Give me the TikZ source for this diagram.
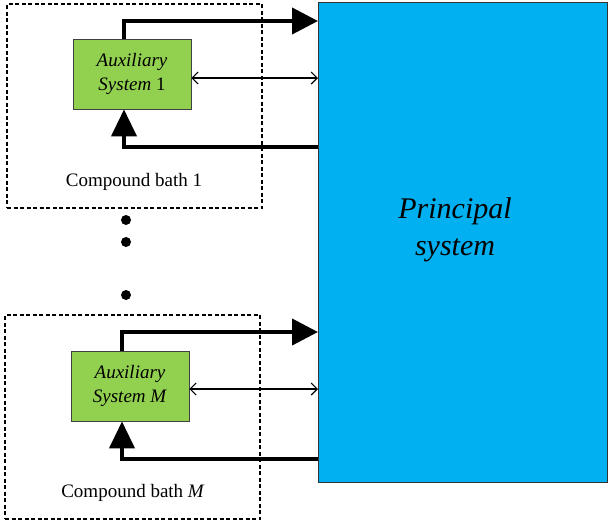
\documentclass[tikz,border=0pt]{standalone}
\usepackage{fontspec}
\setmainfont{Liberation Serif}
\usetikzlibrary{arrows.meta,calc}
\definecolor{auxgreen}{HTML}{92D050}
\definecolor{prinblue}{HTML}{00B0F0}
\begin{document}
\begin{tikzpicture}[x=1pt,y=-1pt,
  auxbox/.style={draw=black!75,line width=0.8pt,fill=auxgreen,minimum width=118pt,minimum height=70pt,align=center,inner sep=0pt,font=\fontsize{19}{24}\selectfont},
  bathbox/.style={draw,dashed,line width=1.1pt,dash pattern=on 4pt off 2.5pt,minimum width=255pt,minimum height=204pt,inner sep=0pt},
  bigarrow/.style={line width=4pt,-{Triangle[length=26pt,width=26pt]}},
  backarrow/.style={line width=4pt,-{Triangle[length=27pt,width=25pt]}},
  thinarrow/.style={line width=1.1pt,{Straight Barb[length=6pt,width=12pt]}-{Straight Barb[length=6pt,width=12pt]}},
  dotmark/.style={circle,fill=black,minimum size=10pt,inner sep=0pt},
  lbl/.style={font=\fontsize{19}{23}\selectfont}]
\useasboundingbox (0,0) rectangle (608,523);
% principal system
\node[draw=black!80,line width=0.8pt,fill=prinblue,minimum width=289pt,minimum height=480pt,inner sep=0pt,align=center] (P) at (462.5,242) {};
\node[font=\fontsize{30}{37}\selectfont\itshape,align=center] (Ptext) at (455,230) {Principal\\system};
% compound baths
\node[bathbox] (B1) at (134.5,106) {};
\node[bathbox] (BM) at (132.5,417) {};
\node[lbl] (L1) at (134,182) {Compound bath 1};
\node[lbl] (LM) at (133,493) {Compound bath \textit{M}};
% auxiliary systems
\node[auxbox] (A1) at (132,74) {\textit{Auxiliary}\\\textit{System} 1};
\node[auxbox] (AM) at (130,386) {\textit{Auxiliary}\\\textit{System M}};
% connector coordinates
\coordinate (t1) at (318,21);
\coordinate (m1) at (318,78);
\coordinate (b1) at (318,147);
\coordinate (v1) at (124,0);
\coordinate (tM) at (318,332);
\coordinate (mM) at (318,389);
\coordinate (bM) at (318,459);
\coordinate (vM) at (122,0);
% arrows bath 1
\draw[bigarrow] (A1.north -| v1) |- (t1);
\draw[thinarrow] (A1.east |- m1) -- (m1);
\draw[backarrow] (b1) -| (A1.south -| v1);
% arrows bath M
\draw[bigarrow] (AM.north -| vM) |- (tM);
\draw[thinarrow] (AM.east |- mM) -- (mM);
\draw[backarrow] (bM) -| (AM.south -| vM);
% dots
\node[dotmark] (d1) at (126,220) {};
\node[dotmark] (d2) at (126,242) {};
\node[dotmark] (d3) at (126,295) {};
\end{tikzpicture}
\end{document}
